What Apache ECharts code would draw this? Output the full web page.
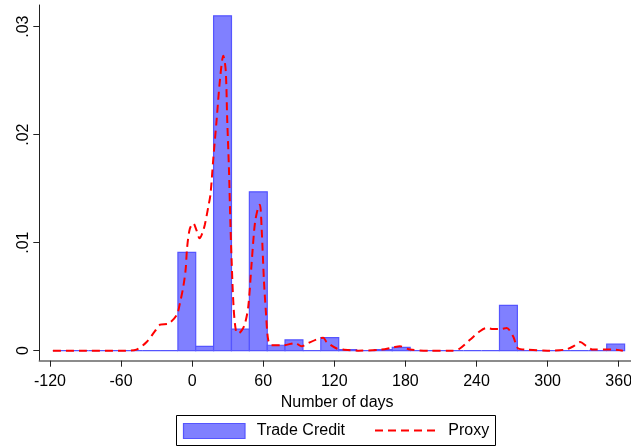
<!DOCTYPE html>
<html>
<head>
<meta charset="utf-8">
<script src="https://cdn.jsdelivr.net/npm/echarts@6/dist/echarts.min.js"></script>
<style>
  html, body { margin: 0; padding: 0; background: #fff; }
  #chart { width: 631px; height: 446px; }
</style>
</head>
<body>
<div id="chart"></div>
<script>
// Histogram bins (days) and density heights for trade credit
const binEdges = [-117.6, -102.5, -87.4, -72.4, -57.3, -42.2, -27.1, -12.0, 3.0, 18.1,
  33.2, 48.3, 63.4, 78.4, 93.5, 108.6, 123.7, 138.8, 153.8, 168.9,
  184.0, 199.1, 214.2, 229.2, 244.3, 259.4, 274.5, 289.6, 304.6, 319.7,
  334.8, 349.9, 365.0];
const tradeCredit = [0, 0, 0, 0, 0, 0, 0, 0.0091, 0.0004, 0.0310,
  0.0020, 0.0147, 0.0005, 0.0010, 0, 0.0012, 0.0001, 0, 0.0001, 0.0003,
  0, 0, 0, 0, 0, 0.0042, 0, 0, 0, 0,
  0, 0.0006];

// Proxy density curve: days and density values
const proxyDays = [-117.5, -90, -60, -56, -47, -38.4, -31.4, -27, -20, -13,
  -10.3, -7.5, -5.5, -4.2, -1.9, 1, 3.5, 6.3, 9, 10.8,
  13.6, 15.5, 17.8, 20.7, 23.5, 26.3, 28.3, 29.6, 31.1, 32.2,
  33.3, 35, 37, 39, 42, 44.6, 47.4, 50.2, 53, 55.8,
  57.2, 58.7, 60.6, 62.3, 64.2, 67, 77, 87, 92.4, 98,
  106.4, 110.7, 113.5, 122, 127.5, 140, 160, 169.7, 175.4, 183.8,
  200, 220, 226, 234.5, 242.9, 248.6, 254, 260, 265.4, 271,
  275.2, 282.3, 300, 315, 321.7, 327.5, 333, 338.5, 355, 363.5];
const proxyValues = [0, 0, 0, 0, 0.0001, 0.0008, 0.0018, 0.0024, 0.0025, 0.0033,
  0.0044, 0.0059, 0.0075, 0.0096, 0.0113, 0.0118, 0.0112, 0.0104, 0.0110, 0.0117,
  0.0133, 0.0145, 0.0177, 0.0214, 0.0251, 0.0273, 0.0260, 0.0214, 0.0167, 0.0121,
  0.0084, 0.0040, 0.0018, 0.0016, 0.0019, 0.0025, 0.0041, 0.0081, 0.0118, 0.0133,
  0.0135, 0.0112, 0.0065, 0.0035, 0.0010, 0.0005, 0.0005, 0.0007, 0.0004, 0.0007,
  0.0011, 0.0012, 0.0008, 0.0002, 0.0001, 0, 0.0001, 0.0003, 0.0004, 0.0001,
  0, 0, 0.0002, 0.0010, 0.0018, 0.0021, 0.0020, 0.0020, 0.0021, 0.0013,
  0.0002, 0.0001, 0, 0.0001, 0.0004, 0.0008, 0.0004, 0.0001, 0.0001, 0];

// Axis ticks
const xTicks = [-120, -60, 0, 60, 120, 180, 240, 300, 360];
const yTicks = [0, 0.01, 0.02, 0.03];

const FONT = '"Liberation Sans", Arial, Helvetica, sans-serif';
const BAR_FILL = '#8080ff';
const BAR_EDGE = '#5555ff';

const barData = tradeCredit.map((h, i) => [binEdges[i], binEdges[i + 1], h]);
const proxyData = proxyDays.map((d, i) => [d, proxyValues[i]]);

const chart = echarts.init(document.getElementById('chart'), null, { renderer: 'canvas' });

chart.setOption({
  animation: false,
  backgroundColor: '#fff',
  textStyle: { fontFamily: FONT },
  grid: { left: 39.3, right: 0, top: 5, bottom: 85.3, containLabel: false, outerBoundsMode: 'none' },
  xAxis: {
    type: 'value',
    min: -129,
    max: 370.4,
    name: 'Number of days',
    nameLocation: 'middle',
    nameGap: 25,
    nameTextStyle: { fontSize: 16, color: '#000', fontFamily: FONT, padding: [0, 0, 0, 4] },
    axisLine: { show: true, onZero: false, lineStyle: { color: '#666', width: 1.5 } },
    axisTick: { show: true, length: 6, customValues: xTicks, lineStyle: { color: '#222', width: 1 } },
    axisLabel: { customValues: xTicks, fontSize: 16, color: '#000', margin: 13, fontFamily: FONT, hideOverlap: false },
    splitLine: { show: false }
  },
  yAxis: {
    type: 'value',
    min: -0.00093,
    max: 0.0320,
    axisLine: { show: true, onZero: false, lineStyle: { color: '#222', width: 1 } },
    axisTick: { show: true, length: 6, customValues: yTicks, lineStyle: { color: '#222', width: 1 } },
    axisLabel: {
      customValues: yTicks,
      rotate: 90,
      fontSize: 16,
      color: '#000',
      margin: 8,
      fontFamily: FONT,
      formatter: v => (v === 0 ? '0' : v.toFixed(2).replace(/^0/, ''))
    },
    splitLine: { show: false }
  },
  series: [
    {
      name: 'Trade Credit',
      type: 'custom',
      data: barData,
      encode: { x: [0, 1], y: 2 },
      renderItem: (params, api) => {
        const p0 = api.coord([api.value(0), 0]);
        const p1 = api.coord([api.value(1), api.value(2)]);
        return {
          type: 'rect',
          shape: { x: p0[0], y: p1[1], width: p1[0] - p0[0], height: p0[1] - p1[1] },
          style: { fill: BAR_FILL, stroke: BAR_EDGE, lineWidth: 1.2 }
        };
      },
      z: 1
    },
    {
      name: 'Proxy',
      type: 'line',
      data: proxyData,
      smooth: 0.3,
      symbol: 'none',
      lineStyle: { color: '#ff0000', width: 2, type: [8, 5] },
      z: 2
    }
  ],
  graphic: [
    {
      type: 'rect',
      shape: { x: 176.5, y: 415.5, width: 319, height: 30 },
      style: { fill: '#fff', stroke: '#000', lineWidth: 1 }
    },
    {
      type: 'rect',
      shape: { x: 183.5, y: 423.5, width: 61.5, height: 15 },
      style: { fill: BAR_FILL, stroke: BAR_EDGE, lineWidth: 1.2 }
    },
    {
      type: 'text',
      x: 256.7, y: 431,
      style: { text: 'Trade Credit', fontSize: 16, fontFamily: FONT, fill: '#000', verticalAlign: 'middle', align: 'left' }
    },
    {
      type: 'line',
      shape: { x1: 375, y1: 430.5, x2: 438.5, y2: 430.5 },
      style: { stroke: '#ff0000', lineWidth: 2, lineDash: [8, 5] }
    },
    {
      type: 'text',
      x: 448.3, y: 431,
      style: { text: 'Proxy', fontSize: 16, fontFamily: FONT, fill: '#000', verticalAlign: 'middle', align: 'left' }
    }
  ]
});
</script>
</body>
</html>
